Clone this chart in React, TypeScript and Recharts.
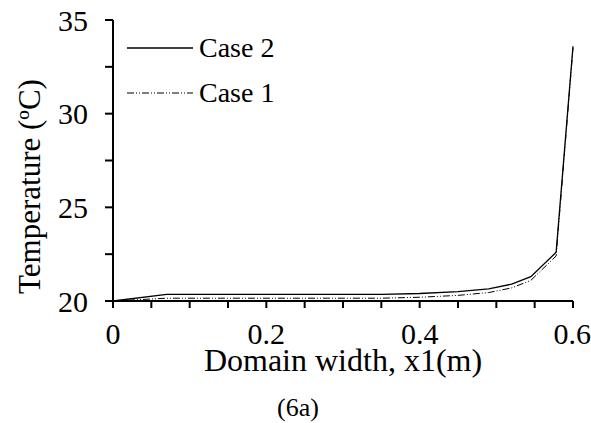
import React from 'react';
import { LineChart, Line, XAxis, YAxis } from 'recharts';

// Wartości (x w metrach, temperatura w ºC)
const xPos = [0, 0.07, 0.14, 0.21, 0.28, 0.35, 0.4, 0.45, 0.49, 0.52, 0.545, 0.578, 0.6];
const case2 = [20, 20.35, 20.35, 20.35, 20.35, 20.35, 20.4, 20.5, 20.65, 20.9, 21.3, 22.6, 33.6];
const case1 = [20, 20.15, 20.15, 20.15, 20.15, 20.15, 20.2, 20.3, 20.45, 20.7, 21.1, 22.4, 33.5];

const xTicks = [0, 0.05, 0.1, 0.15, 0.2, 0.25, 0.3, 0.35, 0.4, 0.45, 0.5, 0.55, 0.6];
const xLabels = [0, 0.2, 0.4, 0.6];
const yTicks = [20, 22.5, 25, 27.5, 30, 32.5, 35];
const yLabels = [20, 25, 30, 35];

const data = xPos.map((x, i) => ({ x, case2: case2[i], case1: case1[i] }));

const FONT = '"Liberation Serif", "Times New Roman", serif';
const DASH = '7 2 1 2 1 2';

const near = (v: number, list: number[]) => list.some((l) => Math.abs(l - v) < 1e-6);

const legendItems = [
  { name: 'Case 2', dash: undefined as string | undefined },
  { name: 'Case 1', dash: DASH },
];

export default function App() {
  return (
    <div style={{ position: 'absolute', left: 0, top: 0, width: 591, height: 423, background: '#fff' }}>
      <LineChart width={591} height={423} data={data} margin={{ top: 20, right: 18, bottom: 0, left: 0 }}>
        <XAxis
          dataKey="x"
          type="number"
          domain={[0, 0.6]}
          ticks={xTicks}
          tickFormatter={(v: number) => (near(v, xLabels) ? String(v) : '')}
          height={122}
          stroke="#000"
          strokeWidth={2}
          tickSize={7}
          tickMargin={15}
          tick={{ fill: '#000', fontFamily: FONT, fontSize: 30 }}
          label={{ value: 'Domain width, x1(m)', position: 'insideTop', offset: 47, fill: '#000', fontFamily: FONT, fontSize: 32 }}
        />
        <YAxis
          type="number"
          domain={[20, 35]}
          ticks={yTicks}
          tickFormatter={(v: number) => (near(v, yLabels) ? String(v) : '')}
          width={113}
          stroke="#000"
          strokeWidth={2}
          tickSize={8}
          tickMargin={17}
          tick={{ fill: '#000', fontFamily: FONT, fontSize: 30 }}
          label={{ value: 'Temperature (ºC)', angle: -90, position: 'center', dx: -27.5, dy: 26, fill: '#000', fontFamily: FONT, fontSize: 31 }}
        />
        <Line type="linear" dataKey="case2" name="Case 2" stroke="#000" strokeWidth={1.3} dot={false} isAnimationActive={false} />
        <Line type="linear" dataKey="case1" name="Case 1" stroke="#000" strokeWidth={1} strokeDasharray={DASH} dot={false} isAnimationActive={false} />
      </LineChart>
      <div style={{ position: 'absolute', left: 127, top: 25, fontFamily: FONT, fontSize: 28, color: '#000' }}>
        {legendItems.map((item) => (
          <div key={item.name} style={{ display: 'flex', alignItems: 'center', height: 45 }}>
            <svg width={66} height={10} style={{ marginRight: 6 }}>
              <line x1={0} y1={5} x2={66} y2={5} stroke="#000" strokeWidth={item.dash ? 1 : 1.3} strokeDasharray={item.dash} />
            </svg>
            <span>{item.name}</span>
          </div>
        ))}
      </div>
      <div style={{ position: 'absolute', left: 0, width: 596, top: 393, textAlign: 'center', fontFamily: FONT, fontSize: 26, color: '#000' }}>
        (6a)
      </div>
    </div>
  );
}
